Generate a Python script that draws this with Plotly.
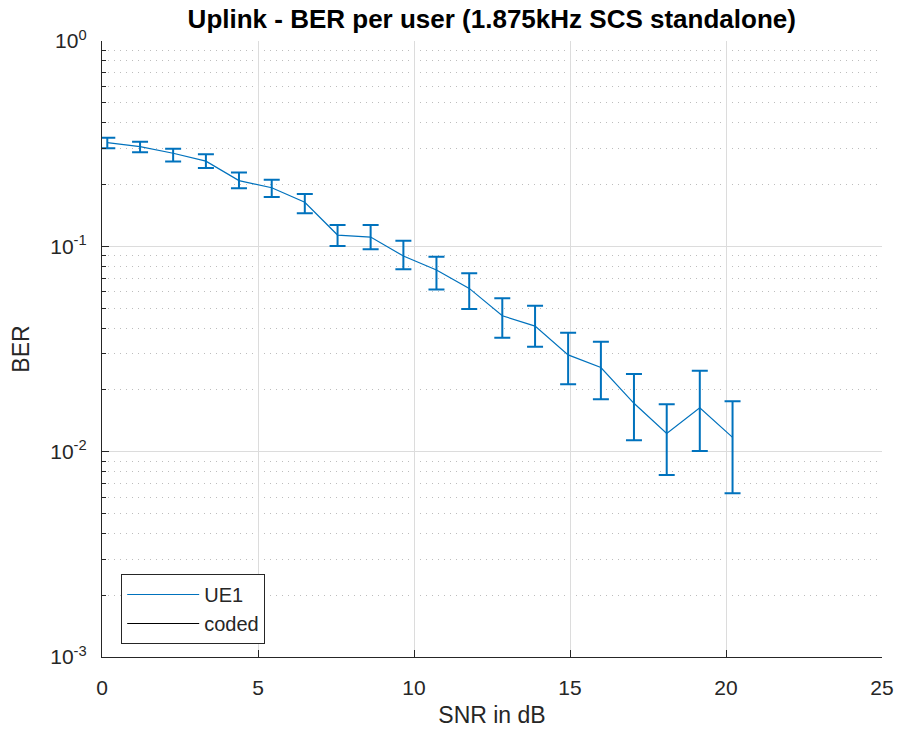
import plotly.graph_objects as go

# ---- data ----
snr_db = [0.17, 1.22, 2.28, 3.33, 4.39, 5.44, 6.50, 7.55, 8.61, 9.66,
          10.72, 11.77, 12.83, 13.88, 14.94, 15.99, 17.05, 18.10, 19.16, 20.21]
ber_ue1 = [0.320, 0.306, 0.284, 0.260, 0.209, 0.193, 0.164, 0.1135, 0.111, 0.0897,
           0.0767, 0.0624, 0.0459, 0.0409, 0.0296, 0.0257, 0.0172, 0.01228, 0.01637, 0.01174]
ber_upper = [0.338, 0.323, 0.299, 0.281, 0.229, 0.211, 0.180, 0.127, 0.127, 0.1065,
             0.0890, 0.0739, 0.0558, 0.0514, 0.0379, 0.0343, 0.0239, 0.0170, 0.0248, 0.0176]
ber_lower = [0.300, 0.287, 0.259, 0.241, 0.192, 0.174, 0.145, 0.1004, 0.0967, 0.0773,
             0.0617, 0.0495, 0.0359, 0.0324, 0.0213, 0.0180, 0.01135, 0.00769, 0.01007, 0.00627]

x_ticks = [0, 5, 10, 15, 20, 25]
y_tick_vals = [1e-3, 1e-2, 1e-1, 1e0]
y_tick_text = ["10<sup>-3</sup>", "10<sup>-2</sup>", "10<sup>-1</sup>", "10<sup>0</sup>"]
y_minor_vals = [m * 10.0 ** e for e in (-3, -2, -1) for m in range(2, 10)]

title_text = "<b>Uplink - BER per user (1.875kHz SCS standalone)</b>"
x_label = "SNR in dB"
y_label = "BER"

BLUE = "#0072BD"
TXT = "#262626"
FONT = "Liberation Sans, Arial, Helvetica, sans-serif"

err_plus = [u - m for u, m in zip(ber_upper, ber_ue1)]
err_minus = [m - l for m, l in zip(ber_ue1, ber_lower)]

fig = go.Figure()
fig.add_trace(go.Scatter(
    x=snr_db, y=ber_ue1, mode="lines", name="UE1",
    line=dict(color=BLUE, width=1.2),
    error_y=dict(type="data", symmetric=False, array=err_plus, arrayminus=err_minus,
                 color=BLUE, thickness=2, width=8),
))
fig.add_trace(go.Scatter(
    x=[None], y=[None], mode="lines", name="coded",
    line=dict(color="#000000", width=1.2),
))

fig.update_layout(
    width=899, height=738,
    margin=dict(l=101.5, r=17, t=41, b=81, autoexpand=False),
    paper_bgcolor="white", plot_bgcolor="white",
    font=dict(family=FONT, color=TXT, size=21),
    title=dict(text=title_text, x=0.547, xanchor="center", y=1 - 19 / 738, yanchor="middle",
               font=dict(family=FONT, size=26, color="#000000")),
    showlegend=True,
    legend=dict(x=0.0246, y=0.1347, xanchor="left", yanchor="top",
                bgcolor="white", bordercolor=TXT, borderwidth=1,
                font=dict(family=FONT, size=20, color=TXT),
                itemwidth=72, tracegroupgap=0),
)

fig.update_xaxes(
    range=[0, 25], tickvals=x_ticks, ticks="inside", ticklen=7, tickwidth=1,
    tickcolor=TXT, showline=True, linecolor=TXT, linewidth=1.3,
    showgrid=True, gridcolor="#dcdcdc", gridwidth=1, zeroline=False, automargin=False,
    tickfont=dict(size=21, color=TXT), ticklabelstandoff=12,
    title=dict(text=x_label, font=dict(size=23, color=TXT), standoff=8),
)
fig.update_yaxes(
    type="log", range=[-3, 0], tickvals=y_tick_vals, ticktext=y_tick_text,
    ticks="inside", ticklen=7, tickwidth=1, tickcolor=TXT,
    showline=True, linecolor=TXT, linewidth=1.3,
    showgrid=True, gridcolor="#dcdcdc", gridwidth=1, zeroline=False, automargin=False,
    tickfont=dict(size=21, color=TXT), ticklabelstandoff=10,
    minor=dict(tickvals=y_minor_vals, ticks="inside", ticklen=4, tickcolor=TXT,
               showgrid=True, gridcolor="#bdbdbd", griddash="1px,5px", gridwidth=1),
    title=dict(text=y_label, font=dict(size=23, color=TXT), standoff=14),
)

fig.write_html("out.html")
